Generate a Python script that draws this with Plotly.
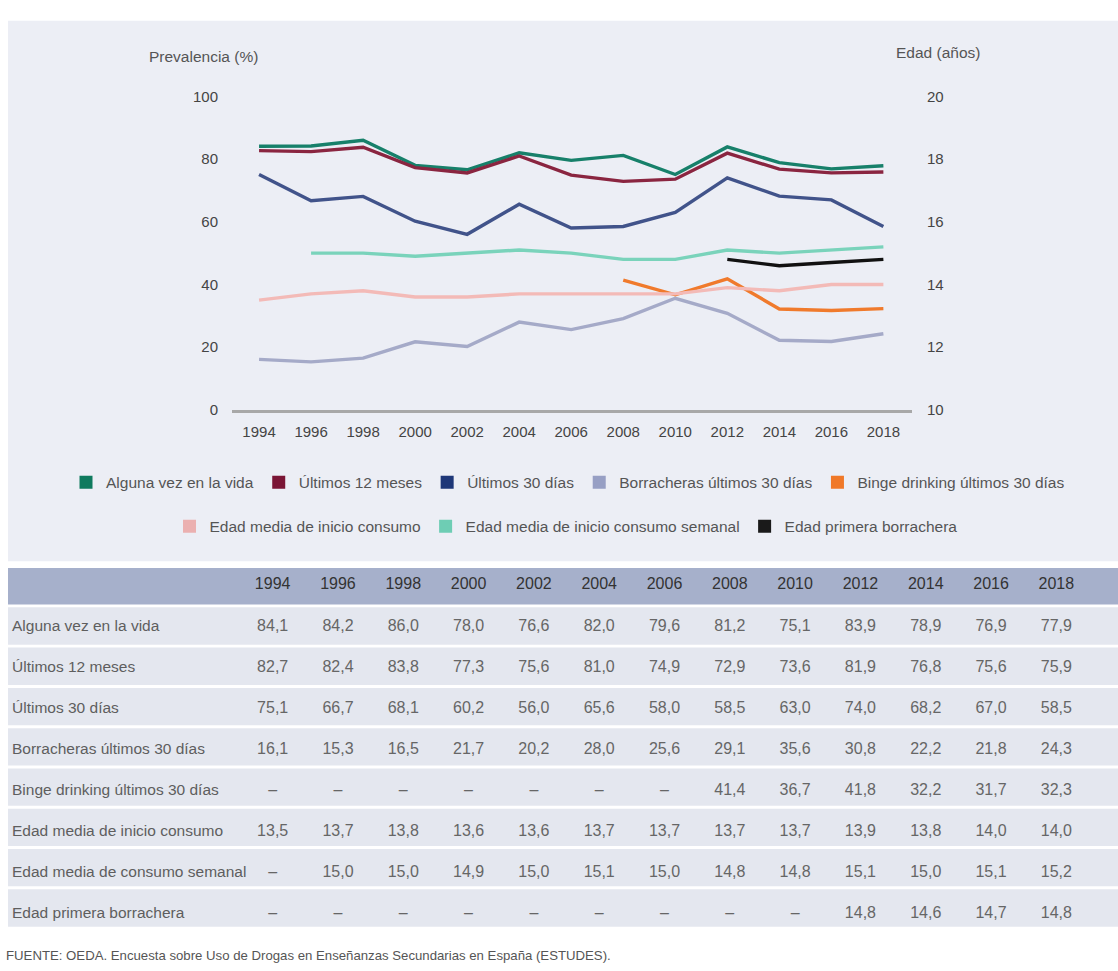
import plotly.graph_objects as go

# ---------------- data ----------------
years = [1994, 1996, 1998, 2000, 2002, 2004, 2006, 2008, 2010, 2012, 2014, 2016, 2018]
alguna_vez = [84.1, 84.2, 86.0, 78.0, 76.6, 82.0, 79.6, 81.2, 75.1, 83.9, 78.9, 76.9, 77.9]
ultimos_12 = [82.7, 82.4, 83.8, 77.3, 75.6, 81.0, 74.9, 72.9, 73.6, 81.9, 76.8, 75.6, 75.9]
ultimos_30 = [75.1, 66.7, 68.1, 60.2, 56.0, 65.6, 58.0, 58.5, 63.0, 74.0, 68.2, 67.0, 58.5]
borracheras_30 = [16.1, 15.3, 16.5, 21.7, 20.2, 28.0, 25.6, 29.1, 35.6, 30.8, 22.2, 21.8, 24.3]
binge_30 = [None, None, None, None, None, None, None, 41.4, 36.7, 41.8, 32.2, 31.7, 32.3]
edad_inicio = [13.5, 13.7, 13.8, 13.6, 13.6, 13.7, 13.7, 13.7, 13.7, 13.9, 13.8, 14.0, 14.0]
edad_semanal = [None, 15.0, 15.0, 14.9, 15.0, 15.1, 15.0, 14.8, 14.8, 15.1, 15.0, 15.1, 15.2]
edad_borrachera = [None, None, None, None, None, None, None, None, None, 14.8, 14.6, 14.7, 14.8]

chart_names = ["Alguna vez en la vida", "Últimos 12 meses", "Últimos 30 días",
               "Borracheras últimos 30 días", "Binge drinking últimos 30 días",
               "Edad media de inicio consumo", "Edad media de inicio consumo semanal",
               "Edad primera borrachera"]
table_names = ["Alguna vez en la vida", "Últimos 12 meses", "Últimos 30 días",
               "Borracheras últimos 30 días", "Binge drinking últimos 30 días",
               "Edad media de inicio consumo", "Edad media de consumo semanal",
               "Edad primera borrachera"]
series = [alguna_vez, ultimos_12, ultimos_30, borracheras_30, binge_30,
          edad_inicio, edad_semanal, edad_borrachera]
on_age_axis = [False, False, False, False, False, True, True, True]

left_ticks = [0, 20, 40, 60, 80, 100]
right_ticks = [10, 12, 14, 16, 18, 20]
source_text = "FUENTE: OEDA. Encuesta sobre Uso de Drogas en Enseñanzas Secundarias en España (ESTUDES)."

# ---------------- styles ----------------
line_colors = ["#17806A", "#8A2540", "#41538A", "#A5AAC8", "#F07A2C",
               "#F3BAB7", "#7AD3BB", "#111111"]
legend_colors = ["#0F7A5E", "#7A1535", "#1E3778", "#979FC4", "#F07828",
                 "#EBB0B0", "#6ECDB4", "#1A1A1A"]
FONT = "Liberation Sans, Arial, sans-serif"
W, H = 1118, 971


def px(x):
    return x / W


def py(y):
    return 1 - y / H


fig = go.Figure()

for name, vals, age, col in zip(chart_names, series, on_age_axis, line_colors):
    fig.add_trace(go.Scatter(
        x=years, y=vals, mode="lines", name=name,
        line=dict(color=col, width=3.4),
        yaxis="y2" if age else "y",
        showlegend=False, connectgaps=False, hoverinfo="x+y+name",
    ))

# legend entries (square swatches), split over two centred rows
for i, (name, col) in enumerate(zip(chart_names, legend_colors)):
    fig.add_trace(go.Scatter(
        x=[None], y=[None], mode="markers", name=name,
        marker=dict(symbol="square", size=13, color=col),
        legend="legend" if i < 5 else "legend2",
        showlegend=True,
    ))


# ---------------- table ----------------
def fmt(v):
    return "–" if v is None else f"{v:.1f}".replace(".", ",")


num_columns = [[fmt(s[j]) for s in series] for j in range(len(years))]
TABLE_TOP, TABLE_BOTTOM = 570, 960
HEADER_H, ROW_H = 42, 41

# label column
fig.add_trace(go.Table(
    domain=dict(x=[px(4), px(330)], y=[py(TABLE_BOTTOM), py(TABLE_TOP)]),
    columnwidth=[326],
    header=dict(values=[""], fill_color="rgba(0,0,0,0)",
                line=dict(width=0, color="rgba(0,0,0,0)"), height=HEADER_H,
                font=dict(family=FONT, size=16, color="#333333")),
    cells=dict(values=[table_names], fill_color="rgba(0,0,0,0)",
               line=dict(width=0, color="rgba(0,0,0,0)"), align="left",
               font=dict(family=FONT, size=15.5, color="#5E5E5E"), height=ROW_H),
))

# numeric columns
fig.add_trace(go.Table(
    domain=dict(x=[px(240), px(1089)], y=[py(TABLE_BOTTOM), py(TABLE_TOP)]),
    columnwidth=[1] * len(years),
    header=dict(
        values=[str(y) for y in years],
        fill_color="rgba(0,0,0,0)",
        line=dict(width=0, color="rgba(0,0,0,0)"),
        align="center",
        font=dict(family=FONT, size=16, color="#333333"),
        height=HEADER_H,
    ),
    cells=dict(
        values=num_columns,
        fill_color="rgba(0,0,0,0)",
        line=dict(width=0, color="rgba(0,0,0,0)"),
        align="center",
        font=dict(family=FONT, size=16, color="#666666"),
        height=ROW_H,
    ),
))

# ---------------- background shapes ----------------
shapes = [
    dict(type="rect", xref="paper", yref="paper", x0=px(8), x1=px(1118),
         y0=py(562), y1=py(12), fillcolor="#ECEEF5", line=dict(width=0), layer="below"),
    dict(type="rect", xref="paper", yref="paper", x0=px(8), x1=px(1118),
         y0=py(606), y1=py(569), fillcolor="#A6B0CB", line=dict(width=0), layer="below"),
]
for i in range(len(table_names)):
    top = 609 + 41 * i
    shapes.append(dict(type="rect", xref="paper", yref="paper", x0=px(8), x1=px(1118),
                       y0=py(top + 38), y1=py(top), fillcolor="#E4E7EF",
                       line=dict(width=0), layer="below"))

annotations = [
    dict(text="Prevalencia (%)", x=px(203), y=py(48), xref="paper", yref="paper",
         showarrow=False, xanchor="center", yanchor="middle",
         font=dict(family=FONT, size=15.5, color="#555555")),
    dict(text="Edad (años)", x=px(938), y=py(44), xref="paper", yref="paper",
         showarrow=False, xanchor="center", yanchor="middle",
         font=dict(family=FONT, size=15.5, color="#555555")),
    dict(text=source_text, x=px(4), y=py(963), xref="paper", yref="paper",
         showarrow=False, xanchor="left", yanchor="middle",
         font=dict(family=FONT, size=13.2, color="#555555")),
]

tick_font = dict(family=FONT, size=15, color="#444444")

fig.update_layout(
    width=W, height=H,
    margin=dict(l=0, r=0, t=0, b=0),
    paper_bgcolor="white",
    plot_bgcolor="rgba(0,0,0,0)",
    font=dict(family=FONT),
    shapes=shapes,
    annotations=annotations,
    xaxis=dict(
        domain=[px(232), px(912)], range=[1992.96, 2019.1],
        tickvals=years, ticktext=[str(y) for y in years],
        showgrid=False, zeroline=False, showline=True,
        linecolor="#A8A8A8", linewidth=3, ticks="",
        tickfont=tick_font, ticklabelstandoff=6,
    ),
    yaxis=dict(
        domain=[py(408), py(89)], range=[0, 100],
        tickvals=left_ticks, showgrid=False, zeroline=False, showline=False,
        ticks="", tickfont=tick_font, ticklabelstandoff=13,
    ),
    yaxis2=dict(
        overlaying="y", side="right", range=[10, 20],
        tickvals=right_ticks, showgrid=False, zeroline=False, showline=False,
        ticks="", tickfont=tick_font, ticklabelstandoff=14,
    ),
    legend=dict(
        orientation="h", x=px(568), y=py(482), xanchor="center", yanchor="middle",
        bgcolor="rgba(0,0,0,0)", font=dict(family=FONT, size=15.5, color="#555555"),
        itemclick=False, itemdoubleclick=False,
    ),
    legend2=dict(
        orientation="h", x=px(566), y=py(527), xanchor="center", yanchor="middle",
        bgcolor="rgba(0,0,0,0)", font=dict(family=FONT, size=15.5, color="#555555"),
        itemclick=False, itemdoubleclick=False,
    ),
)

fig.write_html(
    "out.html",
    config={"displayModeBar": False},
    post_script="document.body.style.margin='0';document.body.style.overflow='hidden';",
)
